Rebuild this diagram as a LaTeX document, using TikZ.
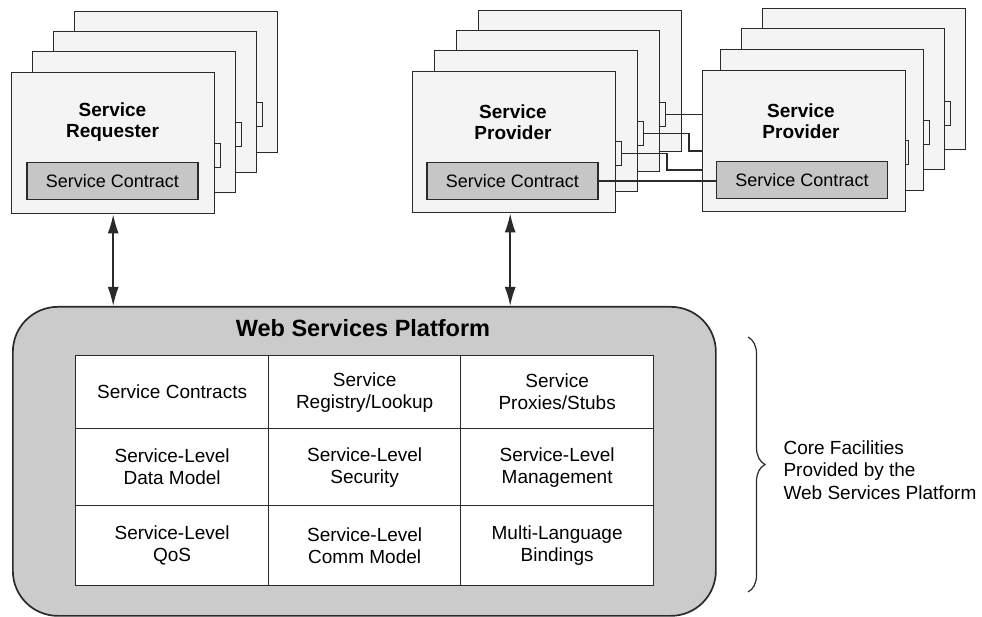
\documentclass[tikz,border=0pt]{standalone}
\usepackage{fontspec}
\setmainfont{Liberation Sans}
\usetikzlibrary{arrows.meta,decorations.pathreplacing,calc}
\definecolor{edge}{HTML}{2A2A2A}
\definecolor{cardfill}{HTML}{F4F4F4}
\definecolor{scfill}{HTML}{C6C6C6}
\definecolor{platfill}{HTML}{CBCBCB}
\definecolor{platinner}{HTML}{CFCFCF}
\begin{document}
\begin{tikzpicture}[x=1pt,y=-1pt,
 card/.style={draw=edge,line width=1.4pt,fill=cardfill,minimum width=203pt,minimum height=141pt,anchor=north west,inner sep=0pt},
 tab/.style={draw=edge,line width=1pt,fill=cardfill,minimum width=6pt,minimum height=24pt,anchor=north west,inner sep=0pt},
 sc/.style={draw=edge,line width=1.3pt,fill=scfill,minimum width=171pt,minimum height=37pt,inner sep=0pt,font=\fontsize{18}{20}\selectfont},
 ttl/.style={align=center,font=\bfseries\fontsize{19}{21.5}\selectfont},
 cell/.style={draw=edge,line width=1.3pt,fill=white,anchor=north west,align=center,inner sep=0pt,font=\fontsize{19}{22}\selectfont},
 conn/.style={draw=edge,line width=1.1pt},
 biarrow/.style={draw=edge,line width=1.6pt,{Latex[length=19pt,width=11pt]}-{Latex[length=19pt,width=11pt]}}
]
\useasboundingbox (0,0) rectangle (982,617);
\fill[white] (0,0) rectangle (982,617);

% ---------- Service Requester stack ----------
\node[card] (r4) at (74,11) {};
\node[card] (r3) at (53,31) {};
\node[tab] (rt3) at (256,102) {};
\node[card] (r2) at (32,51) {};
\node[tab] (rt2) at (235,122) {};
\node[card] (r1) at (11,72) {};
\node[tab] (rt1) at (214,143) {};
\node[ttl] (rtitle) at (112.5,122) {Service\\Requester};
\node[sc] (rsc) at (112.5,181) {Service Contract};

% ---------- Service Provider stack 1 ----------
\node[card] (p4) at (478,10) {};
\node[card] (p3) at (456,30) {};
\node[tab] (pt3) at (659,102) {};
\node[card] (p2) at (434,50) {};
\node[tab] (pt2) at (637,121) {};
\node[card] (p1) at (412,71) {};
\node[tab] (pt1) at (615,141) {};
\node[ttl] (ptitle1) at (513,122) {Service\\Provider};
\node[sc] (psc) at (512.5,181) {Service Contract};

% ---------- Service Provider stack 2 ----------
\node[card] (q4) at (762,8) {};
\node[card] (q3) at (741,28) {};
\node[tab] (qt3) at (944,101) {};
\node[card] (q2) at (720,49) {};
\node[tab] (qt2) at (923,120) {};
\node[card] (q1) at (702,70) {};
\node[tab,minimum width=3pt] (qt1) at (905,140) {};
\node[ttl] (qtitle) at (801,121) {Service\\Provider};
\node[sc] (qsc) at (802,180) {Service Contract};

% ---------- connectors between provider stacks ----------
\coordinate (inB) at (702,151);
\coordinate (inC) at (702,170);
\draw[conn] (pt3.east) -- (pt3.east -| q1.west);
\draw[conn] (pt2.east) -- ++(45,0) |- (inB);
\draw[conn] (pt1.east) -- ++(45,0) |- (inC);
\draw[conn] (psc.east) -- (psc.east -| qsc.west);

% ---------- Web Services Platform ----------
\node[draw=edge,line width=1.7pt,fill=platfill,rounded corners=45pt,minimum width=703pt,minimum height=309pt,anchor=north west,inner sep=0pt] (plat) at (12,306) {};
\node[font=\bfseries\fontsize{23.5}{26}\selectfont] (plattitle) at (363,328) {Web Services Platform};

\node[cell,minimum width=193pt,minimum height=73pt] (c11) at (75,355) {Service Contracts};
\node[cell,minimum width=192pt,minimum height=73pt] (c12) at (268,355) {Service\\Registry/Lookup};
\node[cell,minimum width=193pt,minimum height=73pt] (c13) at (460,355) {Service\\Proxies/Stubs};
\node[cell,minimum width=193pt,minimum height=77pt] (c21) at (75,428) {Service-Level\\Data Model};
\node[cell,minimum width=192pt,minimum height=77pt] (c22) at (268,428) {Service-Level\\Security};
\node[cell,minimum width=193pt,minimum height=77pt] (c23) at (460,428) {Service-Level\\Management};
\node[cell,minimum width=193pt,minimum height=80pt] (c31) at (75,505) {Service-Level\\QoS};
\node[cell,minimum width=192pt,minimum height=80pt] (c32) at (268,505) {Service-Level\\Comm Model};
\node[cell,minimum width=193pt,minimum height=80pt] (c33) at (460,505) {Multi-Language\\Bindings};

% ---------- arrows ----------
\draw[biarrow] (r1.south) -- (r1.south |- plat.north);
\draw[biarrow] ([xshift=-4pt]p1.south) -- ([xshift=-4pt]p1.south |- plat.north);

% ---------- brace and note ----------
\coordinate (bt) at (748,337);
\coordinate (bb) at (748,592);
\draw[edge,line width=1.2pt,decorate,decoration={brace,amplitude=17pt}] (bt) -- (bb);
\node[anchor=west,align=left,font=\fontsize{19}{22.5}\selectfont] (core) at (780,470) {Core Facilities\\Provided by the\\Web Services Platform};
\end{tikzpicture}
\end{document}
